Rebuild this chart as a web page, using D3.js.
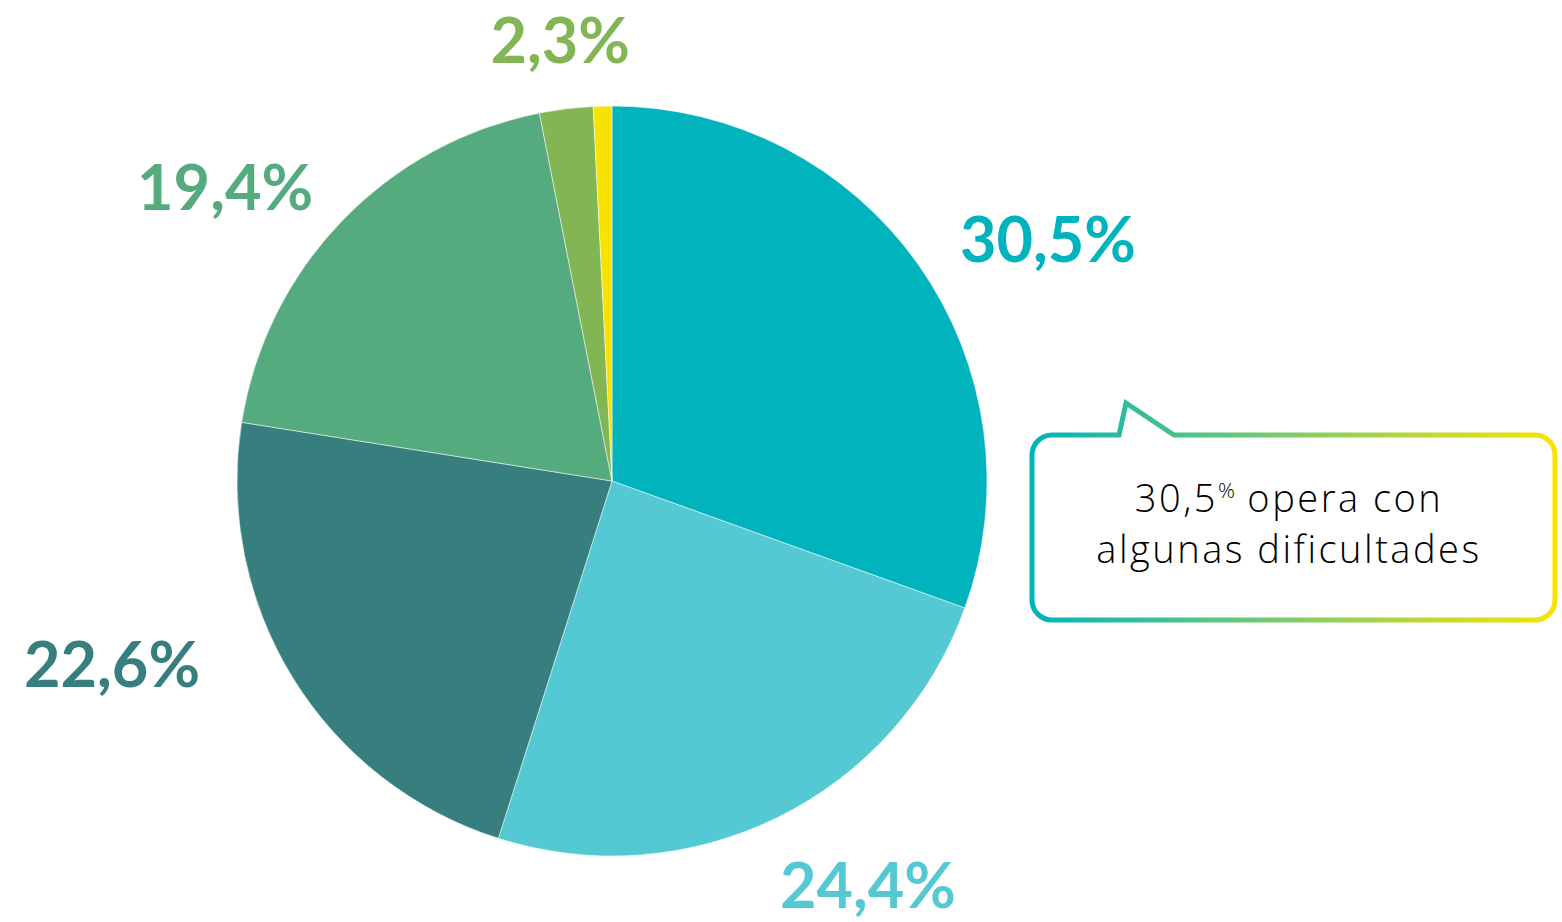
<!DOCTYPE html>
<html>
<head>
<meta charset="utf-8">
<script src="https://cdn.jsdelivr.net/npm/d3@7"></script>
<style>
  html, body { margin: 0; padding: 0; background: #fff; }
  svg { display: block; }
  .lbl { font-family: "Lato", "Open Sans", sans-serif; font-weight: 700; }
  .note { font-family: "Open Sans", "Noto Sans", sans-serif; font-weight: 300; }
</style>
</head>
<body>
<div id="chart"></div>
<script>
// slice data, clockwise from 12 o'clock
var categories = ["a", "b", "c", "d", "e", "f"];
var values = [30.5, 24.4, 22.6, 19.4, 2.3, 0.8];
var labels = ["30,5%", "24,4%", "22,6%", "19,4%", "2,3%", ""];
var colors = ["#00b3bd", "#55c9d3", "#367f7e", "#56ab7e", "#82b654", "#f8e300"];

var width = 1562, height = 922;
var cx = 612, cy = 481, radius = 375;

// label nudges relative to the arc centroid (layout only)
var labelOffsets = [[35, 63], [39, -12], [-83, -51], [-34, 69], [8, 68], [0, 0]];

var svg = d3.select("#chart").append("svg")
    .attr("width", width)
    .attr("height", height);

var g = svg.append("g")
    .attr("transform", "translate(" + cx + "," + cy + ")");

var pie = d3.pie().sort(null).value(function(d){ return d.value; });
var arc = d3.arc().innerRadius(0).outerRadius(radius);
var labelArc = d3.arc().innerRadius(490).outerRadius(490);

var datas = categories.map(function(c, i){
  return {key: c, value: values[i], label: labels[i], color: colors[i], off: labelOffsets[i]};
});
var arcs = pie(datas);

g.selectAll("path.slice")
  .data(arcs)
  .enter().append("path")
    .attr("class", "slice")
    .attr("d", arc)
    .attr("fill", function(d){ return d.data.color; })
    .attr("stroke", "#fff")
    .attr("stroke-width", 0.5);

g.selectAll("text.lbl")
  .data(arcs.filter(function(d){ return d.data.label; }))
  .enter().append("text")
    .attr("class", "lbl")
    .attr("x", function(d){ return labelArc.centroid(d)[0] + d.data.off[0]; })
    .attr("y", function(d){ return labelArc.centroid(d)[1] + d.data.off[1]; })
    .attr("text-anchor", "middle")
    .attr("font-size", 63)
    .attr("fill", function(d){ return d.data.color; })
    .text(function(d){ return d.data.label; });

// callout bubble with gradient border
var defs = svg.append("defs");
var grad = defs.append("linearGradient")
    .attr("id", "bubbleGrad")
    .attr("x1", "0%").attr("x2", "100%")
    .attr("y1", "0%").attr("y2", "0%");
grad.append("stop").attr("offset", "0%").attr("stop-color", "#00b3bd");
grad.append("stop").attr("offset", "50%").attr("stop-color", "#80cc6a");
grad.append("stop").attr("offset", "100%").attr("stop-color", "#f8e300");

var bx0 = 1032, bx1 = 1555, by0 = 435, by1 = 620, r = 20;
var p = d3.path();
p.moveTo(bx0 + r, by0);
p.lineTo(1119, by0);
p.lineTo(1126, 403);
p.lineTo(1174, by0);
p.lineTo(bx1 - r, by0);
p.arcTo(bx1, by0, bx1, by0 + r, r);
p.lineTo(bx1, by1 - r);
p.arcTo(bx1, by1, bx1 - r, by1, r);
p.lineTo(bx0 + r, by1);
p.arcTo(bx0, by1, bx0, by1 - r, r);
p.lineTo(bx0, by0 + r);
p.arcTo(bx0, by0, bx0 + r, by0, r);
p.closePath();

svg.append("path")
    .attr("d", p.toString())
    .attr("fill", "#fff")
    .attr("stroke", "url(#bubbleGrad)")
    .attr("stroke-width", 5)
    .attr("stroke-linejoin", "miter");

var note = svg.append("text")
    .attr("class", "note")
    .attr("x", 1289)
    .attr("text-anchor", "middle")
    .attr("font-size", 38)
    .attr("letter-spacing", 2.5)
    .attr("fill", "#000");
var t1 = note.append("tspan").attr("x", 1289).attr("y", 512);
t1.append("tspan").text("30,5");
t1.append("tspan").attr("font-size", 21).attr("dy", -14).attr("letter-spacing", 0).text("%");
t1.append("tspan").attr("dy", 14).text(" opera con");
note.append("tspan").attr("x", 1289).attr("y", 563).text("algunas dificultades");
</script>
</body>
</html>
